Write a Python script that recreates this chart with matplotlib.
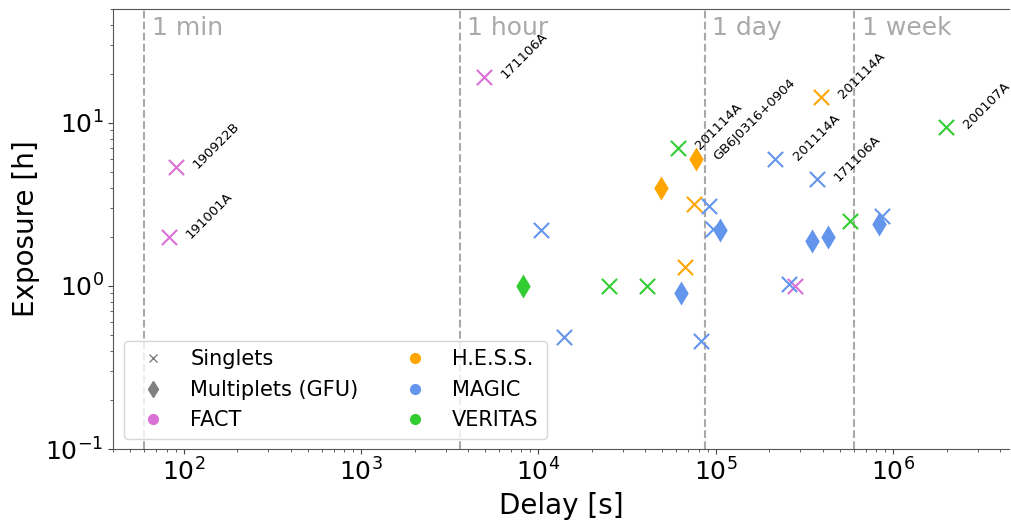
import matplotlib
matplotlib.use('Agg')
import matplotlib.pyplot as plt
from matplotlib.lines import Line2D
import matplotlib.transforms as mtransforms

# colours per experiment
colors = {'FACT': 'orchid', 'H.E.S.S.': 'orange', 'MAGIC': 'cornflowerblue', 'VERITAS': 'limegreen'}

# singlet alerts: delay [s], exposure [h], experiment, label
single_delay = [90, 82, 4900, 2.8e5,
                7.5e4, 6.7e4, 3.9e5,
                1.04e4, 1.4e4, 9.1e4, 9.6e4, 8.2e4, 2.17e5, 3.7e5, 2.57e5, 8.7e5,
                2.5e4, 4.1e4, 6.1e4, 5.7e5, 1.98e6]
single_expo = [5.4, 2.0, 19.2, 1.0,
               3.2, 1.3, 14.4,
               2.2, 0.49, 3.1, 2.25, 0.46, 6.0, 4.5, 1.03, 2.7,
               1.0, 1.0, 7.0, 2.5, 9.5]
single_exp = ['FACT', 'FACT', 'FACT', 'FACT',
              'H.E.S.S.', 'H.E.S.S.', 'H.E.S.S.',
              'MAGIC', 'MAGIC', 'MAGIC', 'MAGIC', 'MAGIC', 'MAGIC', 'MAGIC', 'MAGIC', 'MAGIC',
              'VERITAS', 'VERITAS', 'VERITAS', 'VERITAS', 'VERITAS']
single_label = ['190922B', '191001A', '171106A', '',
                '', '', '201114A',
                '', '', '', '', '', '201114A', '171106A', '', '',
                '', '', '201114A', '', '200107A']

# multiplet (GFU) alerts
multi_delay = [4.9e4, 7.7e4, 1.06e5, 6.4e4, 3.5e5, 4.3e5, 8.3e5, 8.2e3]
multi_expo = [4.0, 6.0, 2.2, 0.9, 1.9, 2.0, 2.4, 1.0]
multi_exp = ['H.E.S.S.', 'H.E.S.S.', 'MAGIC', 'MAGIC', 'MAGIC', 'MAGIC', 'MAGIC', 'VERITAS']
multi_label = ['', 'GB6J0316+0904', '', '', '', '', '', '']

# time marks
mark_sec = [60, 3600, 86400, 604800]
mark_text = ['1 min', '1 hour', '1 day', '1 week']

fig = plt.figure(figsize=(10.11, 5.24), dpi=100)
ax = fig.add_axes([0.112, 0.143, 0.886, 0.840])

for d, e, exp, lab in zip(single_delay, single_expo, single_exp, single_label):
    ax.scatter(d, e, marker='x', s=120, color=colors[exp], linewidths=1.5, zorder=3)
    if lab:
        ax.annotate(lab, (d, e), xytext=(11, -3), textcoords='offset points',
                    rotation=45, ha='left', va='bottom', fontsize=9.5)

for d, e, exp, lab in zip(multi_delay, multi_expo, multi_exp, multi_label):
    ax.scatter(d, e, marker='d', s=150, color=colors[exp], linewidths=0, zorder=3)
    if lab:
        ax.annotate(lab, (d, e), xytext=(11, -3), textcoords='offset points',
                    rotation=45, ha='left', va='bottom', fontsize=9.5)

trans = mtransforms.blended_transform_factory(ax.transData, ax.transAxes)
for t, txt in zip(mark_sec, mark_text):
    ax.axvline(t, color='darkgray', ls='--', lw=1.5, zorder=1)
    ax.text(t * 1.1, 0.985, txt, transform=trans, va='top', ha='left',
            fontsize=18, color='darkgray')

ax.set_xscale('log')
ax.set_yscale('log')
ax.set_xlim(40, 4.5e6)
ax.set_ylim(0.1, 50)
ax.set_xlabel('Delay [s]', fontsize=20)
ax.set_ylabel('Exposure [h]', fontsize=20)
ax.tick_params(labelsize=18, colors='#444444', labelcolor='black')
ax.tick_params(which='minor', colors='#444444')
ax.spines['right'].set_visible(False)
for s in ['top', 'left', 'bottom']:
    ax.spines[s].set_color('#555555')

handles = [
    Line2D([], [], ls='none', marker='x', color='gray', markersize=6, label='Singlets'),
    Line2D([], [], ls='none', marker='d', color='gray', markersize=8, label='Multiplets (GFU)'),
    Line2D([], [], ls='none', marker='o', color=colors['FACT'], markersize=7, label='FACT'),
    Line2D([], [], ls='none', marker='o', color=colors['H.E.S.S.'], markersize=7, label='H.E.S.S.'),
    Line2D([], [], ls='none', marker='o', color=colors['MAGIC'], markersize=7, label='MAGIC'),
    Line2D([], [], ls='none', marker='o', color=colors['VERITAS'], markersize=7, label='VERITAS'),
]
ax.legend(handles=handles, loc='lower left', ncol=2, fontsize=15, columnspacing=1.7)

fig.savefig('out.png', dpi=100)
